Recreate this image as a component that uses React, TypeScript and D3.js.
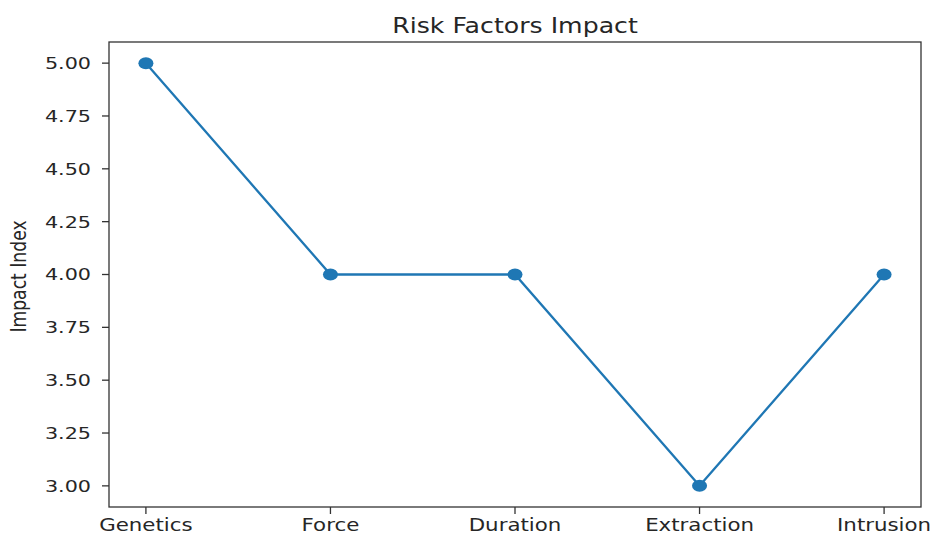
import React from "react";
import * as d3 from "d3";

const categories = ["Genetics", "Force", "Duration", "Extraction", "Intrusion"];
const values = [5, 4, 4, 3, 4];
const yTicks = [3.0, 3.25, 3.5, 3.75, 4.0, 4.25, 4.5, 4.75, 5.0];

export default function App() {
  const W = 935, H = 536;
  const left = 109, right = 921, top = 42, bottom = 507;
  const sx = 1.27;
  const x = d3.scaleLinear().domain([-0.2, categories.length - 1 + 0.2]).range([left, right]);
  const y = d3.scaleLinear().domain([2.9, 5.1]).range([bottom, top]);
  const line = d3.line<number>().x((_, i) => x(i)).y((d) => y(d));
  const font = "DejaVu Sans, sans-serif";
  const col = "#262626";
  return (
    <svg width={W} height={H} style={{ position: "absolute", left: 0, top: 0, background: "#fff" }}>
      <text
        transform={`translate(${(left + right) / 2},32.5) scale(1.2,1)`}
        textAnchor="middle"
        fontFamily={font}
        fontSize={21}
        fill={col}
      >
        Risk Factors Impact
      </text>
      {yTicks.map((t) => (
        <g key={t}>
          <line x1={left - 7} x2={left} y1={y(t)} y2={y(t)} stroke="#333" strokeWidth={1.3} />
          <text
            transform={`translate(${left - 18},${y(t)}) scale(${sx},1)`}
            dy="0.36em"
            textAnchor="end"
            fontFamily={font}
            fontSize={16.3}
            fill={col}
          >
            {t.toFixed(2)}
          </text>
        </g>
      ))}
      {categories.map((c, i) => (
        <g key={c}>
          <line x1={x(i)} x2={x(i)} y1={bottom} y2={bottom + 7} stroke="#333" strokeWidth={1.3} />
          <text
            transform={`translate(${x(i)},531) scale(${sx},1)`}
            textAnchor="middle"
            fontFamily={font}
            fontSize={16.8}
            fill={col}
          >
            {c}
          </text>
        </g>
      ))}
      <text
        transform={`translate(26,${(top + bottom) / 2 + 2}) scale(1.22,1) rotate(-90)`}
        textAnchor="middle"
        fontFamily={font}
        fontSize={17.2}
        fill={col}
      >
        Impact Index
      </text>
      <path d={line(values) || ""} fill="none" stroke="#1f77b4" strokeWidth={2.3} />
      {values.map((v, i) => (
        <ellipse key={i} cx={x(i)} cy={y(v)} rx={7.5} ry={6} fill="#1f77b4" />
      ))}
      <rect x={left} y={top} width={right - left} height={bottom - top} fill="none" stroke="#333" strokeWidth={1.3} />
    </svg>
  );
}
